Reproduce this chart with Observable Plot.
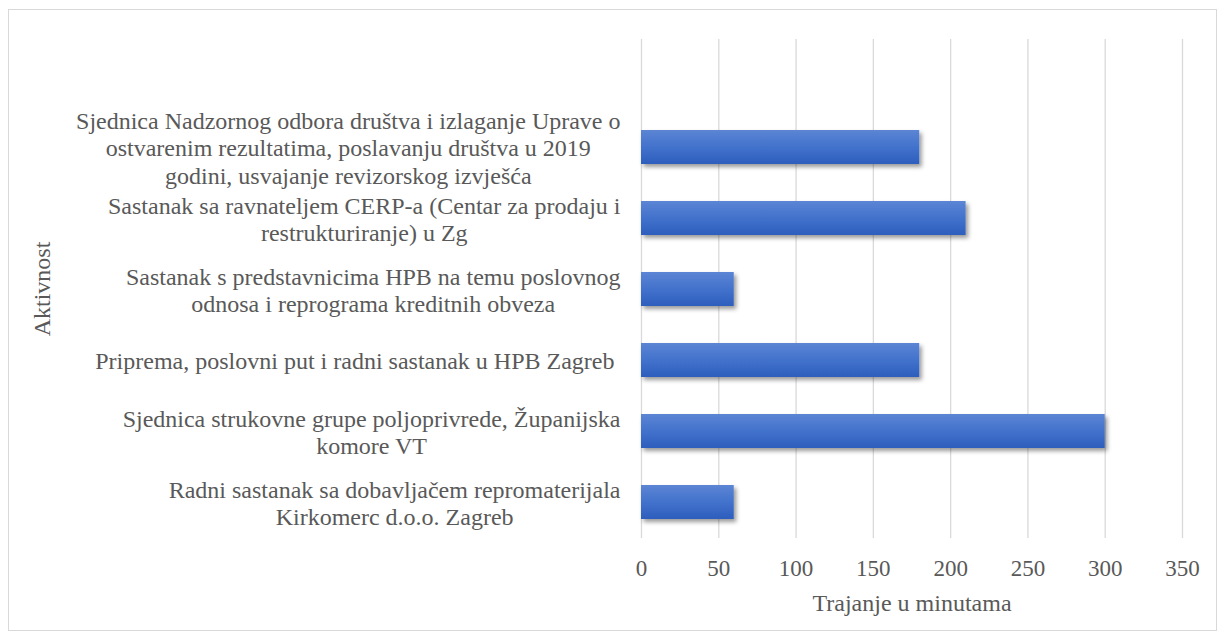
<!DOCTYPE html>
<html><head><meta charset="utf-8">
<script src="https://cdn.jsdelivr.net/npm/d3@7"></script>
<script src="https://cdn.jsdelivr.net/npm/@observablehq/plot@0.6"></script>
<style>
body{margin:0;background:#fff;}
#wrap{position:relative;width:1223px;height:640px;overflow:hidden;}
#border{position:absolute;left:8px;top:9px;width:1209px;height:622px;border:1px solid #d9d9d9;pointer-events:none;box-sizing:border-box;}
</style></head><body><div id="wrap"><div id="border"></div></div>
<script>
const activities = [
  "Sjednica Nadzornog odbora društva i izlaganje Uprave o\nostvarenim rezultatima, poslavanju društva u 2019\ngodini, usvajanje revizorskog izvješća",
  "Sastanak sa ravnateljem CERP-a (Centar za prodaju i\nrestrukturiranje) u Zg",
  "Sastanak s predstavnicima HPB na temu poslovnog\nodnosa i reprograma kreditnih obveza",
  "Priprema, poslovni put i radni sastanak u HPB Zagreb ",
  "Sjednica strukovne grupe poljoprivrede, Županijska\nkomore VT",
  "Radni sastanak sa dobavljačem repromaterijala\nKirkomerc d.o.o. Zagreb"
];
const minutes = [180, 210, 60, 180, 300, 60];
const xTicks = [0, 50, 100, 150, 200, 250, 300, 350];
const xTitle = "Trajanje u minutama";
const yTitle = "Aktivnost";

const FONT = "'Liberation Serif', 'Times New Roman', serif";
const FS = 24;
const TICKFS = 23;
const TEXT = "#595959";

const data = activities.map((a, i) => ({activity: a, minutes: minutes[i]}));

const ctx = document.createElement("canvas").getContext("2d");
ctx.font = `${FS}px 'Liberation Serif'`;
const blockWidth = s => Math.max(...s.split("\n").map(l => ctx.measureText(l).width));

const NS = "http://www.w3.org/2000/svg";
function defsMark() {
  const defs = document.createElementNS(NS, "defs");
  defs.innerHTML = `
    <linearGradient id="barGrad" x1="0" y1="0" x2="0" y2="1">
      <stop offset="0" stop-color="#5c85d4"/>
      <stop offset="0.5" stop-color="#4272cc"/>
      <stop offset="1" stop-color="#2d5ebd"/>
    </linearGradient>
    <filter id="shadow" x="-10%" y="-30%" width="130%" height="180%">
      <feDropShadow dx="2.5" dy="3" stdDeviation="2" flood-color="#000" flood-opacity="0.4"/>
    </filter>`;
  return defs;
}

const labelMarks = activities.map(a => Plot.text([a], {
  y: d => d,
  frameAnchor: "left",
  textAnchor: "middle",
  lineAnchor: "middle",
  lineHeight: 27.5 / FS,
  dx: -21 - blockWidth(a) / 2,
  fontSize: FS,
  fill: TEXT
}));

const chart = Plot.plot({
  width: 1223,
  height: 640,
  marginLeft: 641,
  marginRight: 41,
  marginTop: 39,
  marginBottom: 102,
  style: {fontFamily: FONT, fontSize: FS + "px", color: TEXT, background: "transparent", overflow: "visible"},
  x: {domain: [0, 350], axis: null},
  y: {domain: activities, axis: null, paddingInner: 0.517, paddingOuter: 0.2585, insetTop: 71.4},
  marks: [
    defsMark,
    Plot.ruleX(xTicks, {x: d => d, stroke: "#d9d9d9", strokeWidth: 1.3}),
    Plot.barX(data, {
      x: "minutes", y: "activity", fill: "url(#barGrad)",
      render: (i, s, v, d, c, next) => { const g = next(i, s, v, d, c); g.setAttribute("filter", "url(#shadow)"); return g; }
    }),
    Plot.axisX({ticks: xTicks, tickSize: 0, tickPadding: 21, fontSize: TICKFS, label: null, fill: TEXT}),
    ...labelMarks,
    Plot.text([xTitle], {frameAnchor: "bottom", textAnchor: "middle", dy: 65, lineAnchor: "middle", fontSize: FS, fill: TEXT}),
    Plot.text([yTitle], {frameAnchor: "left", textAnchor: "middle", dx: 42 - 641, rotate: -90, lineAnchor: "middle", fontSize: FS, fill: TEXT})
  ]
});
chart.style.position = "absolute";
chart.style.left = "0px";
chart.style.top = "0px";
document.getElementById("wrap").prepend(chart);
</script>
</body></html>
